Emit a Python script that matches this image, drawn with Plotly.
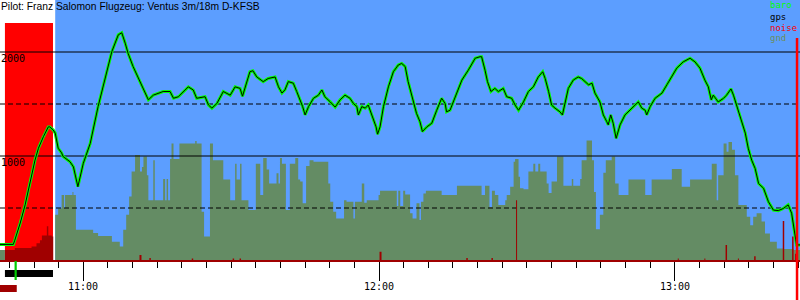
import plotly.graph_objects as go

# ---------------- data (time in minutes after midnight, altitude in m) ----------------
baro_t = [643.1, 645.8, 646.1, 647.2, 648.2, 649.2, 650.2, 650.9, 651.6, 651.9, 652.9, 653.2, 653.9, 654.3,
          654.9, 655.6, 655.9, 657.3, 658.0, 658.7, 658.9, 660.0, 661.4, 663.0, 664.7, 665.8, 667.1, 667.8,
          668.5, 669.1, 670.1, 671.5, 672.5, 673.2, 674.2, 676.2, 677.6, 678.3, 679.3, 681.3, 682.3, 683.0,
          684.7, 685.4, 686.1, 687.1, 688.4, 689.8, 690.8, 691.8, 692.3, 692.8, 693.8, 694.4, 695.2, 696.5,
          697.5, 698.9, 699.6, 700.3, 700.9, 701.6, 702.6, 703.3, 704.0, 704.5, 705.0, 705.7, 706.7, 707.7,
          708.4, 709.0, 710.1, 711.1, 712.1, 713.1, 714.1, 714.8, 715.5, 715.8, 716.5, 717.2, 717.8, 718.2,
          718.8, 719.4, 719.7, 720.2, 720.9, 721.9, 722.9, 723.9, 724.6, 725.3, 725.9, 726.3, 727.0, 727.6,
          728.3, 728.8, 729.7, 730.7, 731.7, 732.7, 733.4, 733.7, 734.4, 735.4, 736.8, 738.1, 739.5, 740.5,
          740.8, 741.5, 742.0, 742.7, 743.5, 744.2, 745.2, 745.9, 746.9, 747.6, 748.3, 749.3, 750.3, 751.3,
          752.3, 753.2, 753.7, 754.4, 755.0, 755.7, 756.7, 757.2, 757.7, 758.4, 759.4, 760.4, 761.1, 761.8,
          762.5, 763.2, 763.8, 764.8, 765.5, 766.2, 766.5, 767.0, 767.5, 768.1, 768.9, 769.9, 770.9, 771.9,
          772.6, 773.3, 774.0, 774.3, 775.0, 776.0, 777.4, 778.4, 779.4, 780.4, 781.7, 783.1, 784.1, 785.1,
          786.1, 786.8, 787.4, 787.8, 788.8, 789.9, 790.5, 791.4, 791.9, 792.6, 793.3, 794.3, 794.9, 795.6,
          796.3, 797.0, 798.0, 799.0, 800.0, 801.0, 802.0, 803.0, 803.7, 804.4, 804.7, 805.4]
baro = [150, 150, 190, 355, 530, 755, 960, 1075, 1155, 1185, 1280, 1280, 1250, 1220,
        1075, 1030, 995, 945, 895, 720, 705, 930, 1120, 1475, 1795, 2005, 2165, 2185,
        2085, 1985, 1860, 1715, 1620, 1540, 1585, 1620, 1620, 1555, 1570, 1665, 1635, 1555,
        1570, 1490, 1460, 1505, 1620, 1585, 1665, 1650, 1575, 1650, 1810, 1820, 1760, 1715,
        1745, 1760, 1665, 1605, 1635, 1715, 1700, 1620, 1540, 1475, 1395, 1475, 1555, 1585,
        1635, 1570, 1520, 1470, 1540, 1585, 1555, 1505, 1475, 1395, 1475, 1460, 1490, 1440,
        1360, 1280, 1210, 1280, 1475, 1665, 1810, 1875, 1890, 1860, 1715, 1640, 1520, 1410,
        1330, 1235, 1280, 1315, 1440, 1555, 1505, 1425, 1440, 1555, 1730, 1825, 1940, 1955,
        1955, 1825, 1715, 1620, 1650, 1620, 1650, 1570, 1555, 1490, 1440, 1520, 1620, 1665,
        1760, 1810, 1745, 1620, 1490, 1460, 1425, 1395, 1490, 1650, 1730, 1760, 1745, 1715,
        1685, 1700, 1605, 1520, 1395, 1330, 1300, 1395, 1315, 1170, 1300, 1395, 1440, 1490,
        1520, 1460, 1440, 1395, 1475, 1555, 1605, 1685, 1760, 1845, 1905, 1940, 1905, 1845,
        1730, 1665, 1540, 1585, 1520, 1555, 1585, 1645, 1585, 1475, 1360, 1220, 1075, 960,
        880, 735, 690, 560, 480, 475, 495, 530, 450, 225, 145, 145]
gps = list(baro)  # the gps trace coincides with baro at this resolution

gnd_t = [643.1, 644.1, 654.3, 654.9, 655.6, 656.1, 656.3, 657.8, 658.0, 658.5, 662.0, 663.0, 665.8, 667.4,
         668.1, 668.7, 669.3, 669.8, 670.5, 671.5, 671.9, 672.2, 672.9, 673.2, 674.2, 674.5, 676.2, 676.6,
         676.9, 677.2, 677.6, 677.9, 678.3, 679.5, 682.7, 683.0, 684.0, 684.5, 685.7, 686.3, 688.4, 689.8,
         690.8, 691.1, 691.8, 692.1, 693.5, 695.0, 695.9, 696.5, 697.2, 697.7, 699.2, 699.6, 699.9, 700.3,
         701.1, 701.9, 703.0, 703.6, 704.0, 704.5, 705.2, 705.9, 706.7, 709.7, 710.1, 710.7, 711.3, 712.9,
         713.4, 714.8, 715.1, 716.5, 717.0, 717.5, 719.9, 720.2, 723.6, 723.9, 724.3, 724.9, 725.3, 726.3,
         726.8, 727.6, 728.2, 728.5, 729.0, 729.5, 732.7, 735.8, 740.8, 741.5, 742.4, 742.9, 743.5, 744.2,
         745.6, 745.9, 746.6, 747.3, 747.6, 748.3, 748.6, 749.3, 750.3, 751.3, 751.7, 752.3, 752.7, 754.0,
         754.4, 755.0, 756.1, 757.4, 759.1, 759.4, 760.8, 761.1, 762.1, 763.2, 763.6, 764.0, 764.8, 765.5,
         766.0, 767.2, 767.9, 768.6, 770.6, 774.0, 775.3, 779.4, 781.4, 783.1, 787.5, 788.5, 788.8, 789.9,
         790.5, 790.9, 791.6, 792.2, 792.9, 794.6, 795.3, 795.9, 796.6, 797.6, 798.3, 799.3, 800.7, 802.0,
         804.1, 805.4]
gnd = [95, 0, 435, 495, 625, 500, 625, 655, 625, 290, 260, 230, 175, 130,
       290, 435, 610, 850, 1010, 850, 895, 995, 815, 575, 960, 575, 780, 575,
       780, 575, 970, 1120, 970, 1120, 1145, 1120, 465, 225, 1120, 960, 775, 575,
       925, 775, 925, 575, 480, 925, 625, 980, 870, 735, 835, 735, 980, 925,
       480, 925, 980, 775, 755, 545, 905, 960, 945, 735, 560, 465, 400, 575,
       560, 400, 560, 735, 550, 575, 625, 665, 520, 665, 520, 665, 630, 450,
       400, 545, 385, 560, 640, 665, 625, 715, 625, 715, 510, 665, 625, 530,
       575, 625, 705, 945, 970, 800, 690, 680, 850, 925, 850, 925, 850, 735,
       645, 755, 995, 715, 780, 715, 780, 960, 1150, 960, 655, 295, 435, 840,
       960, 995, 735, 625, 775, 625, 775, 875, 705, 775, 925, 575, 815, 1120,
       1040, 1135, 1060, 815, 530, 415, 335, 415, 450, 370, 255, 175, 110, 105,
       95, 95]

noise_t = [643.1, 644.1, 646.1, 649.5, 650.5, 651.2, 651.6, 652.6, 652.9, 653.6, 653.9,
           671.4, 671.8, 673.4, 673.7, 682.0, 682.3, 690.3, 690.6, 691.7, 692.0, 720.1, 720.5,
           737.7, 738.0, 742.8, 743.1, 747.8, 748.0, 780.6, 780.8, 786.0, 786.2, 790.3, 790.6,
           792.8, 793.0, 796.1, 796.4, 801.9, 802.2, 803.8, 804.1, 804.4, 804.8, 805.4]
noise = [0, 95, 115, 130, 160, 190, 235, 325, 235, 225, 0,
         48, 0, 20, 0, 15, 0, 15, 0, 15, 0, 80, 0,
         20, 0, 20, 0, 575, 0, 15, 0, 15, 0, 145, 0,
         15, 0, 35, 0, 375, 0, 225, 0, 60, 0, 0]

grid_solid = [1000, 2000]
grid_dashed = [500, 1500]
y_labels = [1000, 2000]
hour_ticks = [660, 720, 780]
hour_text = ["11:00", "12:00", "13:00"]

t_start, t_end = 643.1, 805.4
engine_on, engine_off = 644.1, 653.85
blank_end = 654.3
takeoff = 646.1
landing = 804.8
engine_ceiling = 2280

title = "Pilot: Franz Salomon Flugzeug: Ventus 3m/18m D-KFSB"
legend_items = [("baro", "#00ff00"), ("gps", "#000000"), ("noise", "#ff0000"), ("gnd", "#6b8e5f")]

# ---------------- styles ----------------
BLUE = "#5c9eff"
OLIVE = "#648c64"
DARKRED = "#a00000"
MONO = "DejaVu Sans Mono"

fig = go.Figure()

fig.add_trace(go.Scatter(x=gnd_t, y=gnd, mode="lines", line=dict(shape="hv", width=0, color=OLIVE),
                         fill="tozeroy", fillcolor=OLIVE, hoverinfo="skip"))
for v in grid_solid:
    fig.add_trace(go.Scatter(x=[t_start, t_end], y=[v, v], mode="lines",
                             line=dict(color="black", width=1), hoverinfo="skip"))
for v in grid_dashed:
    fig.add_trace(go.Scatter(x=[t_start, t_end], y=[v, v], mode="lines",
                             line=dict(color="black", width=1, dash="5px,3px"), hoverinfo="skip"))
fig.add_trace(go.Scatter(x=noise_t, y=noise, mode="lines", line=dict(shape="hv", width=0, color=DARKRED),
                         fill="tozeroy", fillcolor=DARKRED, hoverinfo="skip"))
fig.add_trace(go.Scatter(x=baro_t, y=baro, mode="lines", line=dict(color="#00ff00", width=3)))
fig.add_trace(go.Scatter(x=baro_t, y=gps, mode="lines", line=dict(color="black", width=1)))

shapes = [
    dict(type="rect", xref="x", yref="y", x0=t_start, x1=blank_end, y0=0, y1=2500,
         fillcolor="white", line_width=0, layer="below"),
    dict(type="rect", xref="x", yref="y", x0=engine_on, x1=engine_off, y0=0, y1=engine_ceiling,
         fillcolor="#ff0000", line_width=0, layer="below"),
    # markers below the axis
    dict(type="rect", xref="x", yref="paper", x0=engine_on, x1=engine_off, y0=1 - 277 / 300, y1=1 - 270 / 300,
         fillcolor="black", line_width=0),
    dict(type="rect", xref="x", yref="paper", x0=takeoff - 0.05, x1=takeoff + 0.4, y0=1 - 280 / 300, y1=1 - 261 / 300,
         fillcolor="#00cc00", line_width=0),
    dict(type="rect", xref="x", yref="paper", x0=t_start, x1=takeoff + 0.4, y0=1 - 292 / 300, y1=1 - 285 / 300,
         fillcolor=DARKRED, line_width=0),
    dict(type="line", xref="x", yref="paper", x0=landing, x1=landing, y0=0, y1=1 - 38 / 300,
         line=dict(color="#ff0000", width=2.5)),
]

annotations = [
    dict(text=title, xref="paper", yref="paper", x=0, y=1, xanchor="left", yanchor="top",
         showarrow=False, font=dict(family="Liberation Sans", size=10.3, color="black"), borderpad=0),
]
for v in y_labels:
    annotations.append(dict(text=str(v), xref="paper", yref="y", x=0, y=v, xanchor="left", yanchor="top",
                            showarrow=False, font=dict(family=MONO, size=10, color="black"), borderpad=0))
for tv, tt in zip(hour_ticks, hour_text):
    annotations.append(dict(text=tt, xref="x", yref="paper", x=tv, y=1 - 286 / 300, xanchor="center",
                            yanchor="middle", showarrow=False,
                            font=dict(family=MONO, size=10, color="black"), borderpad=0))
for i, (name, col) in enumerate(legend_items):
    annotations.append(dict(text=name, xref="paper", yref="paper", x=769 / 800, y=1 - (5.5 + 11 * i) / 300,
                            xanchor="left", yanchor="middle", showarrow=False,
                            font=dict(family=MONO, size=9, color=col), borderpad=0))

fig.update_layout(
    width=800, height=300, margin=dict(l=0, r=0, t=0, b=0),
    paper_bgcolor="white", plot_bgcolor=BLUE, showlegend=False,
    shapes=shapes, annotations=annotations,
    xaxis=dict(range=[t_start, t_end], showgrid=False, zeroline=False,
               showline=True, linecolor=DARKRED, linewidth=2,
               tickmode="array", tickvals=hour_ticks, ticktext=hour_text, showticklabels=False,
               ticks="outside", ticklen=19, tickwidth=1, tickcolor="black",
               minor=dict(ticks="outside", tick0=0, dtick=5, ticklen=6, tickwidth=1, tickcolor="black")),
    yaxis=dict(range=[0, 2500], domain=[40 / 300, 1], showgrid=False, zeroline=False,
               showticklabels=False, ticks=""),
)

fig.write_html("out.html")
